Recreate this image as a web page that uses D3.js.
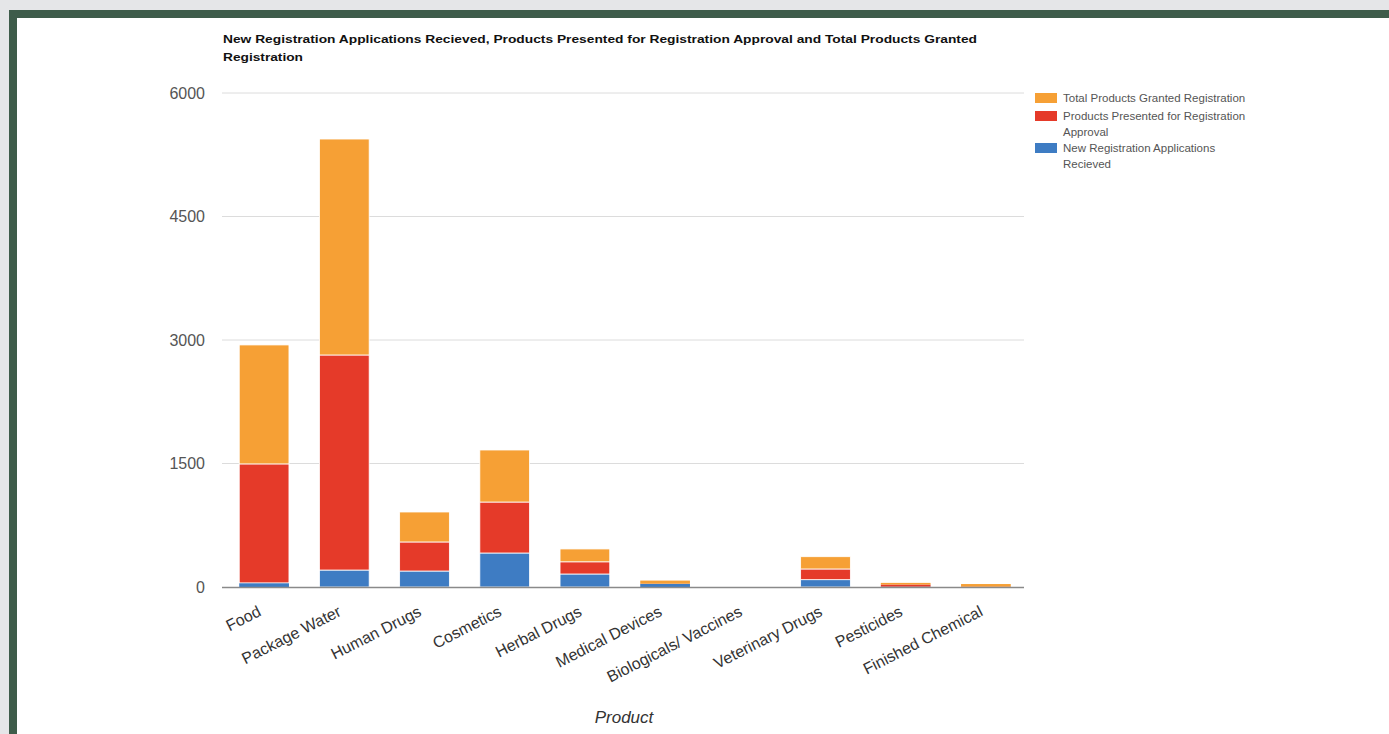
<!DOCTYPE html>
<html><head><meta charset="utf-8">
<script src="https://cdn.jsdelivr.net/npm/d3@7"></script>
<style>
html,body{margin:0;padding:0;background:#e5e6e8;}
svg{display:block;}
</style></head>
<body>
<svg id="chart" width="1389" height="734"></svg>
<script>
const categories = ["Food","Package Water","Human Drugs","Cosmetics","Herbal Drugs","Medical Devices","Biologicals/ Vaccines","Veterinary Drugs","Pesticides","Finished Chemical"];
const newApplications = [50, 206, 194, 413, 158, 38, 0, 89, 4, 0];
const presented = [1445, 2612, 353, 619, 148, 2, 0, 130, 26, 4];
const granted = [1445, 2623, 364, 632, 156, 38, 0, 149, 20, 32];
const yTicks = [0, 1500, 3000, 4500, 6000];
const titleLines = ["New Registration Applications Recieved, Products Presented for Registration Approval and Total Products Granted","Registration"];
const legendLines = [["Total Products Granted Registration"],["Products Presented for Registration","Approval"],["New Registration Applications","Recieved"]];

const colors = ["#3e7cc3","#e53a29","#f6a035"];
const FONT = "Arial, Liberation Sans, sans-serif";
const svg = d3.select("#chart");

// frame
svg.append("rect").attr("x",0).attr("y",0).attr("width",1389).attr("height",734).attr("fill","#e5e6e8");
svg.append("rect").attr("x",9).attr("y",10).attr("width",1380).attr("height",724).attr("fill","#3e5c4a");
svg.append("rect").attr("x",17).attr("y",18).attr("width",1372).attr("height",716).attr("fill","#ffffff");

const x = d3.scaleBand().domain(categories).range([224,1026]).paddingInner(0.38).paddingOuter(0.19);
const y = d3.scaleLinear().domain([0,6000]).range([587,93]);

// gridlines
svg.append("g").selectAll("line").data(yTicks.filter(d=>d>0)).join("line")
  .attr("x1",222).attr("x2",1024).attr("y1",d=>y(d)).attr("y2",d=>y(d))
  .attr("stroke","#dcdcdc").attr("stroke-width",1);

// y labels
svg.append("g").selectAll("text").data(yTicks).join("text")
  .attr("x",205).attr("y",d=>y(d)+5.5).attr("text-anchor","end")
  .attr("font-family",FONT).attr("font-size",16).attr("fill","#555")
  .text(d=>d);

// stacked data
const table = categories.map((c,i)=>({cat:c, s0:newApplications[i], s1:presented[i], s2:granted[i]}));
const stack = d3.stack().keys(["s0","s1","s2"])(table);

svg.append("g").selectAll("g").data(stack).join("g")
  .attr("fill",(d,i)=>colors[i])
  .selectAll("rect").data(d=>d.filter(p=>p[1]-p[0]>0)).join("rect")
  .attr("x",d=>x(d.data.cat)).attr("width",x.bandwidth())
  .attr("y",d=>y(d[1])).attr("height",d=>Math.max(0,y(d[0])-y(d[1])))
  .attr("stroke",d=>(y(d[0])-y(d[1]))>5?"#fff":"none").attr("stroke-width",0.8);

// baseline
svg.append("line").attr("x1",222).attr("x2",1024).attr("y1",y(0)+0.5).attr("y2",y(0)+0.5)
  .attr("stroke","#8a8a8a").attr("stroke-width",1.3);

// x labels
svg.append("g").selectAll("text").data(categories).join("text")
  .attr("transform",d=>`translate(${x(d)+x.bandwidth()/2-2},${615}) rotate(-27)`)
  .attr("text-anchor","end")
  .attr("font-family",FONT).attr("font-size",16).attr("fill","#333")
  .text(d=>d);

// axis title
svg.append("text").attr("x",624).attr("y",723).attr("text-anchor","middle")
  .attr("font-family",FONT).attr("font-size",17).attr("font-style","italic").attr("fill","#333")
  .text("Product");

// title
const tLen = [754, 80];
svg.append("g").selectAll("text").data(titleLines).join("text")
  .attr("x",223).attr("y",(d,i)=>43+i*18)
  .attr("font-family",FONT).attr("font-size",11).attr("font-weight","bold").attr("fill","#111")
  .attr("textLength",(d,i)=>tLen[i]).attr("lengthAdjust","spacingAndGlyphs")
  .text(d=>d);

// legend
const legY = [93, 111, 143];
const leg = svg.append("g");
legendLines.forEach((lines,i)=>{
  const ci = 2-i;
  leg.append("rect").attr("x",1035).attr("y",legY[i]).attr("width",22).attr("height",10).attr("fill",colors[ci]);
  lines.forEach((t,j)=>{
    leg.append("text").attr("x",1063).attr("y",legY[i]+9+j*16)
      .attr("font-family",FONT).attr("font-size",11.5).attr("fill","#555")
      .text(t);
  });
});
</script>
</body></html>
